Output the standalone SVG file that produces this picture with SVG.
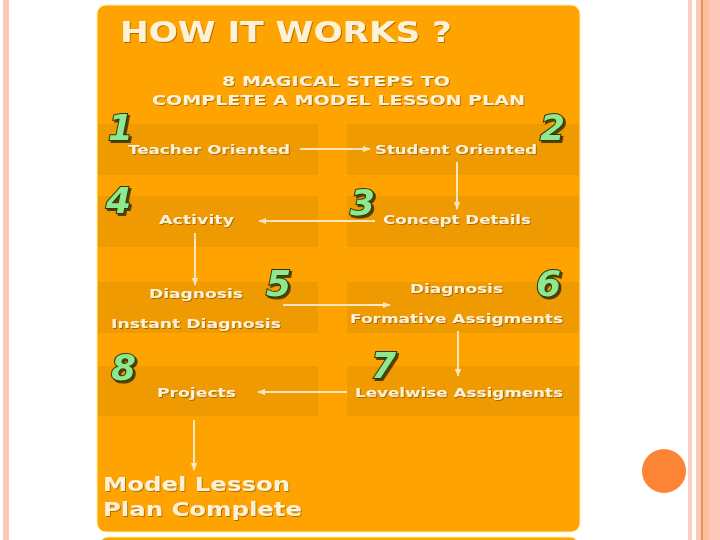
<svg xmlns="http://www.w3.org/2000/svg" width="720" height="540" viewBox="0 0 720 540">
<style>
.lbl{font-family:"DejaVu Sans","Liberation Sans",sans-serif;font-weight:bold;fill:#fdf1d6;font-size:13px;filter:url(#sh)}
.big{font-family:"DejaVu Sans","Liberation Sans",sans-serif;font-weight:bold;fill:#fdf1d6;filter:url(#sh)}
.num{font-family:"DejaVu Sans","Liberation Sans",sans-serif;font-weight:bold;font-style:italic;font-size:36px;fill:#8fe88f;stroke:#2f3a0c;stroke-width:2;paint-order:stroke;filter:url(#nsh)}
.band{fill:#ef9a00}
.con{stroke:#fbe6bf;stroke-width:2;fill:none;marker-end:url(#ah)}
</style>
<defs>
<filter id="sh" x="-10%" y="-30%" width="120%" height="160%"><feDropShadow dx="1" dy="1" stdDeviation="0.6" flood-color="#7a4a00" flood-opacity="0.6"/></filter>
<filter id="nsh" x="-30%" y="-30%" width="160%" height="160%"><feDropShadow dx="2" dy="2" stdDeviation="0.5" flood-color="#2a2a00" flood-opacity="0.8"/></filter>
<marker id="ah" viewBox="0 0 10 10" refX="9" refY="5" markerWidth="4" markerHeight="4" orient="auto"><path d="M0,1 L10,5 L0,9 z" fill="#fbe6bf"/></marker>
</defs>
<rect width="720" height="540" fill="#ffffff"/>
<rect x="3" y="0" width="6" height="540" fill="#f9c8b6"/>
<rect x="688" y="0" width="4" height="540" fill="#f9d0bf"/>
<rect x="696" y="0" width="24" height="540" fill="#fdc9b8"/>
<rect x="701" y="0" width="2" height="540" fill="#e4925e"/>
<rect x="703" y="0" width="6" height="540" fill="#fdbfa0"/>
<circle cx="664" cy="471" r="22" fill="#fb8535"/>
<rect x="97" y="5" width="483" height="527" rx="9" fill="#ffa300" stroke="#fff0a8" stroke-width="1"/>
<rect x="99" y="537" width="480" height="20" rx="9" fill="#ffa300" stroke="#fff0a8" stroke-width="1"/>
<g id="bands">
<rect class="band" x="98" y="124" width="220" height="51"/>
<rect class="band" x="347" y="124" width="232" height="51"/>
<rect class="band" x="98" y="196" width="220" height="51"/>
<rect class="band" x="347" y="196" width="232" height="51"/>
<rect class="band" x="98" y="282" width="220" height="51"/>
<rect class="band" x="347" y="282" width="232" height="51"/>
<rect class="band" x="98" y="366" width="220" height="50"/>
<rect class="band" x="347" y="366" width="232" height="50"/>
</g>
<g id="title">
<text class="big" x="120" y="42" font-size="28" textLength="332" lengthAdjust="spacingAndGlyphs">HOW IT WORKS ?</text>
<text class="big" x="222" y="86" font-size="14" textLength="228" lengthAdjust="spacingAndGlyphs">8 MAGICAL STEPS TO</text>
<text class="big" x="152" y="105" font-size="14" textLength="373" lengthAdjust="spacingAndGlyphs">COMPLETE A MODEL LESSON PLAN</text>
</g>
<g id="connectors">
<path class="con" d="M300,149 H370"/>
<path class="con" d="M457,162 V209"/>
<path class="con" d="M375,221 H259"/>
<path class="con" d="M195,233 V285"/>
<path class="con" d="M283,305 H390"/>
<path class="con" d="M458,331 V376"/>
<path class="con" d="M347,392 H258"/>
<path class="con" d="M194,420 V470"/>
</g>
<g id="n1"><text class="num" x="108" y="140">1</text><text class="lbl" x="128" y="154" textLength="162" lengthAdjust="spacingAndGlyphs">Teacher Oriented</text></g>
<g id="n2"><text class="num" x="540" y="140">2</text><text class="lbl" x="375" y="154" textLength="162" lengthAdjust="spacingAndGlyphs">Student Oriented</text></g>
<g id="n3"><text class="num" x="350" y="215">3</text><text class="lbl" x="383" y="224" textLength="148" lengthAdjust="spacingAndGlyphs">Concept Details</text></g>
<g id="n4"><text class="num" x="106" y="213">4</text><text class="lbl" x="159" y="224" textLength="75" lengthAdjust="spacingAndGlyphs">Activity</text></g>
<g id="n5"><text class="num" x="266" y="296">5</text><text class="lbl" x="149" y="298" textLength="94" lengthAdjust="spacingAndGlyphs">Diagnosis</text><text class="lbl" x="111" y="328" textLength="170" lengthAdjust="spacingAndGlyphs">Instant Diagnosis</text></g>
<g id="n6"><text class="num" x="536" y="296">6</text><text class="lbl" x="410" y="293" textLength="93" lengthAdjust="spacingAndGlyphs">Diagnosis</text><text class="lbl" x="350" y="323" textLength="213" lengthAdjust="spacingAndGlyphs">Formative Assigments</text></g>
<g id="n7"><text class="num" x="371" y="378">7</text><text class="lbl" x="355" y="397" textLength="208" lengthAdjust="spacingAndGlyphs">Levelwise Assigments</text></g>
<g id="n8"><text class="num" x="111" y="380">8</text><text class="lbl" x="157" y="397" textLength="79" lengthAdjust="spacingAndGlyphs">Projects</text></g>
<g id="end"><text class="big" x="103" y="491" font-size="20" textLength="187" lengthAdjust="spacingAndGlyphs">Model Lesson</text><text class="big" x="103" y="516" font-size="20" textLength="199" lengthAdjust="spacingAndGlyphs">Plan Complete</text></g>
</svg>
